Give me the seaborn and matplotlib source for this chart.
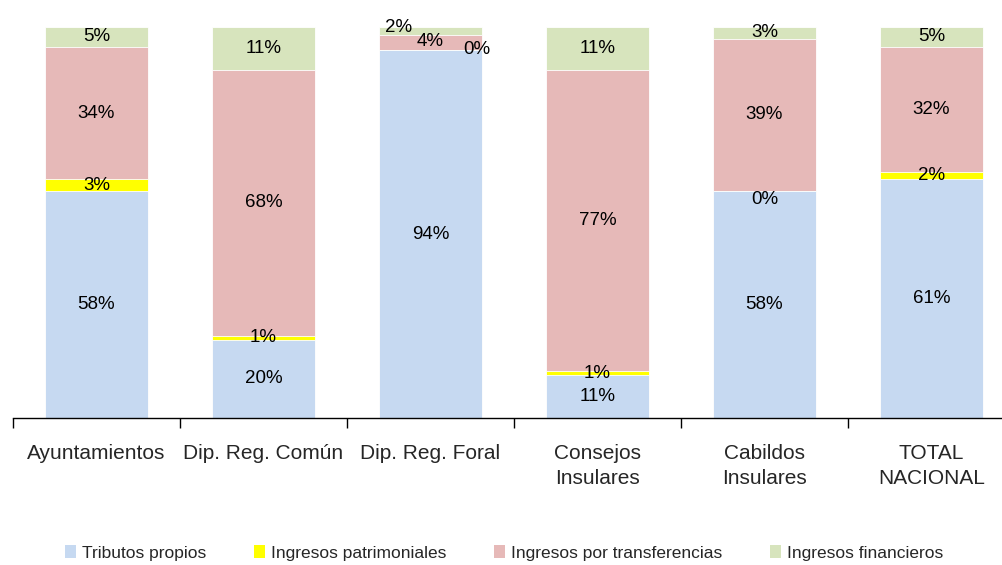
import numpy as np
import pandas as pd
import matplotlib
matplotlib.use("Agg")
import matplotlib.pyplot as plt
from matplotlib.patches import Patch
import seaborn as sns

# ── data ────────────────────────────────────────────────────
categorias = ["Ayuntamientos", "Dip. Reg. Común", "Dip. Reg. Foral",
              "Consejos\nInsulares", "Cabildos\nInsulares", "TOTAL\nNACIONAL"]
tributos        = [58, 20, 94, 11, 58, 61]
patrimoniales   = [3, 1, 0, 1, 0, 2]
transferencias  = [34, 68, 4, 77, 39, 32]
financieros     = [5, 11, 2, 11, 3, 5]

series = ["Tributos propios", "Ingresos patrimoniales",
          "Ingresos por transferencias", "Ingresos financieros"]
colores = ["#C6D9F1", "#FFFF00", "#E6B9B8", "#D7E4BD"]

df = pd.DataFrame({"cat": categorias, series[0]: tributos,
                   series[1]: patrimoniales, series[2]: transferencias,
                   series[3]: financieros})

sns.set_style("white")
plt.rcParams["font.family"] = ["Liberation Sans", "DejaVu Sans"]

fig = plt.figure(figsize=(10.03, 5.65), dpi=100)
ax = fig.add_axes([13 / 1003, 147 / 565, 1002 / 1003, 391 / 565])

# stacked bars: draw cumulative totals from the top down
cum = df[series].cumsum(axis=1)
for s, c in zip(reversed(series), reversed(colores)):
    sns.barplot(x=df["cat"], y=cum[s], color=c, width=0.62,
                edgecolor="white", linewidth=0.6, ax=ax, saturation=1)

# percentage labels, nudged where segments are thin (points)
nudges = {(2, 3): (-23, 2.5), (2, 2): (0, 1), (2, 1): (33, 1),
          (4, 1): (0, -6), (1, 1): (0, 0.5), (3, 1): (0, 0)}
for i in range(len(categorias)):
    base = 0
    for j, s in enumerate(series):
        v = df[s].iloc[i]
        dx, dy = nudges.get((i, j), (0, 0))
        ax.annotate(f"{v}%", (i, base + v / 2), xytext=(dx, dy),
                    textcoords="offset points", ha="center", va="center",
                    fontsize=13.5, color="black")
        base += v

ax.set_xlim(-0.5, 5.5)
ax.set_ylim(0, 100)
ax.set_xlabel("")
ax.set_ylabel("")
ax.set_yticks([])
for sp in ["top", "right", "left"]:
    ax.spines[sp].set_visible(False)
ax.spines["bottom"].set_color("black")
ax.spines["bottom"].set_linewidth(1)

ax.set_xticks(np.arange(6))
ax.set_xticklabels(categorias, fontsize=15)
ax.set_xticks(np.arange(-0.5, 6, 1), minor=True)
ax.tick_params(axis="x", which="major", length=0, pad=18.5)
ax.tick_params(axis="x", which="minor", length=7, width=1, color="black",
               direction="out", bottom=True)
for lab in ax.get_xticklabels():
    lab.set_verticalalignment("top")
    lab.set_linespacing(1.45)

handles = [Patch(facecolor=c, edgecolor="none") for c in colores]
fig.legend(handles, series, loc="center", bbox_to_anchor=(504 / 1003, 1 - 553 / 565),
           ncol=4, frameon=False, fontsize=12.5, handlelength=0.63,
           handleheight=0.75, handletextpad=0.35, columnspacing=2.75,
           borderpad=0, borderaxespad=0)

fig.savefig("out.png", dpi=100)
